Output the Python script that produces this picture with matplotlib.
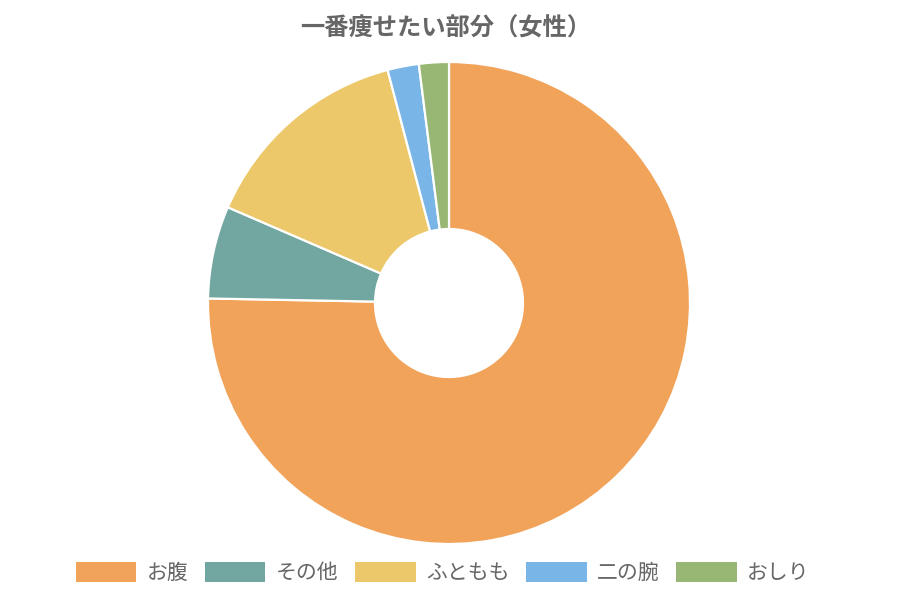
import matplotlib
matplotlib.use('Agg')
import matplotlib.pyplot as plt

plt.rcParams['font.family'] = ['Noto Sans CJK JP', 'DejaVu Sans']

labels = ['お腹', 'その他', 'ふともも', '二の腕', 'おしり']
values = [75.3, 6.2, 14.4, 2.1, 2.0]
colors = ['#F1A35A', '#71A7A0', '#ECC86A', '#79B5E6', '#98B774']

fig = plt.figure(figsize=(9, 6), dpi=100)

# square axes centred on the donut (pixel centre 449, 303)
half = 250
ax = fig.add_axes([(449 - half) / 900, (600 - 303 - half) / 600, 2 * half / 900, 2 * half / 600])
lim = half / 241
wedges, _ = ax.pie(values, colors=colors, startangle=90, counterclock=False, radius=1,
                   wedgeprops=dict(width=1 - 74 / 241, edgecolor='white', linewidth=1.6))
ax.set_xlim(-lim, lim)
ax.set_ylim(-lim, lim)
ax.set_aspect('equal')
ax.axis('off')

fig.text(0.495, 0.953, '一番痩せたい部分（女性）', ha='center', va='center',
         fontsize=17.5, fontweight='bold', color='#666666')

leg = fig.legend(wedges, labels, loc='center', bbox_to_anchor=(0.492, 0.045), ncol=5,
                 frameon=False, fontsize=15, handlelength=2.9, handleheight=1.1,
                 handletextpad=0.5, columnspacing=0.8)
for t in leg.get_texts():
    t.set_color('#666666')
for h in leg.legend_handles:
    h.set_edgecolor('none')

fig.savefig('out.png', dpi=100)
